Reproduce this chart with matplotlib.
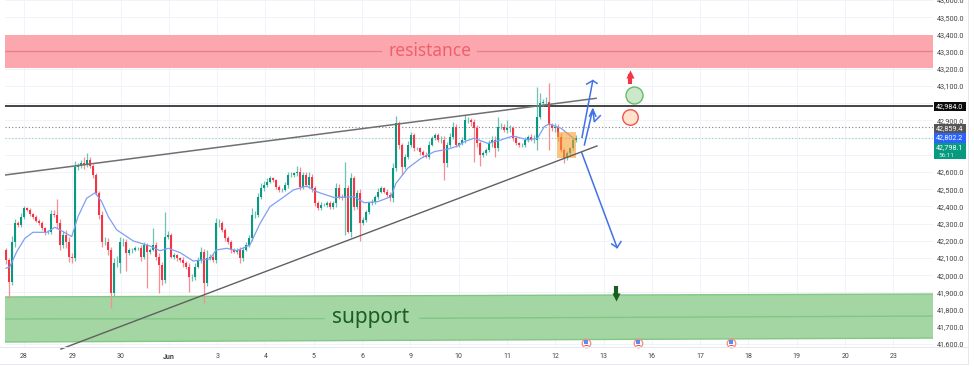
import numpy as np
import matplotlib
matplotlib.use("Agg")
import matplotlib.pyplot as plt
from matplotlib.patches import Rectangle, Polygon

W, H = 974, 366

# cierres, una vela por entrada
closes = [
    42089, 41963, 42196, 42302, 42293, 42341, 42390, 42380, 42357, 42337, 42318, 42302, 42273, 42254,
    42254, 42357, 42351, 42302, 42176, 42235, 42196, 42109, 42099, 42632, 42636, 42651, 42642, 42671,
    42636, 42583, 42477, 42351, 42196, 42196, 42147, 41895, 42070, 42070, 42196, 42196, 42128, 42147,
    42147, 42157, 42157, 42109, 42176, 42138, 42147, 42176, 42109, 42060, 41973, 42225, 42235, 42109,
    42118, 42099, 42089, 42070, 42050, 41992, 41992, 42050, 42089, 42138, 41954, 42099, 42109, 42089,
    42302, 42302, 42264, 42215, 42196, 42147, 42138, 42147, 42099, 42147, 42176, 42215, 42351, 42351,
    42457, 42506, 42525, 42545, 42564, 42554, 42516, 42496, 42496, 42525, 42583, 42583, 42593, 42603,
    42516, 42583, 42525, 42574, 42506, 42419, 42390,
    42409, 42409, 42419, 42399, 42419, 42506, 42457, 42448, 42506, 42254, 42564, 42399, 42477, 42302,
    42322, 42370, 42419, 42428, 42457, 42487, 42506, 42487, 42467, 42448, 42622, 42884, 42758, 42632,
    42690, 42758, 42816, 42738, 42738, 42719, 42700, 42690, 42758, 42797, 42816, 42787, 42787, 42651,
    42758, 42806, 42864, 42758, 42767, 42787, 42903, 42903, 42893, 42855, 42767, 42700, 42709, 42729,
    42767, 42787, 42738, 42864, 42864, 42845, 42855, 42855, 42797, 42767, 42758, 42758, 42787, 42806,
    42787, 42787, 42923, 43000, 43010, 43010, 42874, 42855, 42864, 42806, 42729, 42680, 42709, 42738,
    42787, 42798,
]
wick_up = [
    30, 10, 30, 25, 15, 20, 15, 8, 10, 8, 12, 10, 15, 10,
    8, 25, 20, 15, 25, 20, 30, 25, 20, 30, 15, 20, 25, 20,
    15, 10, 12, 15, 20, 25, 20, 15, 30, 40, 25, 20, 15, 12,
    10, 15, 8, 20, 15, 12, 10, 25, 15, 20, 15, 30, 20, 12,
    10, 8, 10, 15, 12, 20, 15, 20, 15, 25, 15, 20, 12, 15,
    30, 25, 15, 10, 12, 8, 10, 12, 15, 20, 15, 20, 40, 25,
    20, 30, 25, 20, 15, 10, 8, 10, 12, 15, 20, 15, 10, 30,
    25, 20, 15, 25, 15, 12, 10, 15, 12, 15, 10, 15, 20, 25,
    15, 30, 20, 25, 15, 20, 25, 15, 10, 8, 15, 12, 20, 15,
    10, 15, 20, 30, 25, 15, 12, 15, 20, 15, 10, 8, 10, 8,
    15, 20, 15, 10, 12, 20, 25, 15, 20, 30, 15, 10, 15, 30,
    15, 10, 15, 20, 12, 15, 10, 20, 25, 20, 15, 20, 15, 12,
    20, 15, 10, 8, 12, 15, 12, 15, 30, 25, 20, 15, 25, 20,
    10, 25, 15, 20, 10, 15, 8, 10, 15,
]
wick_down = [
    25, 15, 20, 30, 15, 10, 12, 8, 10, 12, 8, 10, 12, 20,
    15, 15, 10, 25, 30, 15, 40, 30, 25, 15, 20, 15, 25, 10,
    15, 20, 12, 25, 30, 20, 30, 25, 15, 20, 15, 25, 30, 10,
    15, 8, 12, 25, 12, 10, 15, 8, 20, 25, 30, 20, 15, 10,
    12, 15, 10, 20, 15, 30, 25, 20, 10, 15, 20, 15, 12, 10,
    15, 20, 10, 15, 12, 15, 10, 12, 25, 15, 8, 12, 15, 20,
    15, 12, 15, 10, 8, 12, 15, 10, 12, 8, 15, 12, 10, 15,
    20, 15, 12, 15, 20, 15, 10, 12, 8, 10, 15, 12, 20, 15,
    12, 25, 15, 30, 20, 15, 30, 20, 15, 12, 10, 15, 12, 8,
    10, 12, 15, 20, 15, 25, 30, 15, 12, 10, 15, 12, 20, 15,
    10, 15, 8, 10, 12, 15, 25, 20, 15, 12, 10, 15, 12, 15,
    20, 25, 30, 20, 15, 12, 10, 15, 20, 25, 15, 12, 10, 15,
    20, 15, 12, 10, 15, 12, 10, 8, 15, 10, 12, 15, 20, 25,
    15, 20, 25, 15, 12, 10, 15, 12, 10,
]
# mechas largas: vela -> precio
high_spikes = {0: 42157, 17: 42442, 26: 42690, 27: 42713, 49: 42273, 53: 42370, 67: 42147,
               110: 42535, 113: 42661, 115: 42593, 130: 42926, 135: 42835, 154: 42919,
               164: 42923, 167: 42903, 177: 43093, 178: 43058, 181: 43116, 183: 42884}
low_spikes = {1: 41870, 35: 41808, 38: 42012, 40: 42027, 47: 41928, 51: 41895, 61: 41905, 66: 41837,
              113: 42235, 114: 42244, 118: 42202, 119: 42293, 132: 42583, 146: 42554, 156: 42661,
              158: 42636, 163: 42690, 177: 42729, 181: 42729, 186: 42655}

# media movil (vela, precio)
ma_bars = [0, 1.3, 3.6, 6.3, 9, 13.6, 16.3, 19, 21.9, 24, 26.9, 29.7, 31.9, 34.1, 36.9, 42.4, 48,
           51.3, 54.1, 58, 62.4, 68, 70, 73.6, 77, 81.3, 84.7, 88, 92, 95.8, 100.2, 103.6, 105,
           109.4, 116, 119.4, 123.9, 128.3, 130, 133.9, 138.3, 142.8, 147.2, 150.6, 152.8, 156,
           160.6, 165, 169, 173.9, 177.2, 179.4, 181, 185, 189.4]
ma_price = [42041, 42050, 42138, 42215, 42250, 42250, 42279, 42254, 42225, 42341, 42448, 42480,
            42428, 42341, 42264, 42200, 42170, 42143, 42157, 42132, 42083, 42095, 42147, 42157,
            42143, 42176, 42302, 42399, 42448, 42496, 42519, 42486, 42477, 42452, 42457, 42422,
            42428, 42457, 42535, 42622, 42680, 42719, 42733, 42752, 42777, 42797, 42767, 42787,
            42810, 42787, 42797, 42864, 42880, 42855, 42793]

day_labels = ["28", "29", "30", "Jun", "3", "4", "5", "6", "9", "10", "11", "12", "13",
              "16", "17", "18", "19", "20", "23"]
price_ticks = list(range(41600, 43700, 100))
# tapadas por las etiquetas de precio
hidden_ticks = [42700, 42800, 43000]

res_top, res_mid, res_bottom = 43400, 43305, 43205
sup_top = [41874, 41891]
sup_mid = [41746, 41763]
sup_bottom = [41612, 41635]

UP = "#089981"
DOWN = "#f23645"
BLUE_DRAW = "#3f72e6"

plt.rcParams['font.family'] = ['Roboto', 'DejaVu Sans']

fig = plt.figure(figsize=(W / 100, H / 100), dpi=100)
ax = fig.add_axes([5 / W, 1 - 347 / H, 928 / W, 347 / H])
x_left, x_right = -0.33, 309
ax.set_xlim(x_left, x_right)
ax.set_ylim(41583, 43600.6)

# grid
day_pos = 6 + 16.1 * np.arange(len(day_labels))
ax.set_xticks(day_pos)
ax.set_xticklabels(day_labels, fontsize=5, color="#444444")
ax.get_xticklabels()[3].set_fontweight("bold")
ax.set_yticks(price_ticks)
ax.set_yticklabels(["" if p in hidden_ticks else "{:,.1f}".format(p) for p in price_ticks],
                   fontsize=5.2, color="#444444")
ax.yaxis.tick_right()
ax.tick_params(length=0)
ax.tick_params(axis="y", pad=3)
ax.tick_params(axis="x", pad=4)
ax.grid(color="#f0f3fa", lw=0.7)
ax.set_axisbelow(True)
for name, sp in ax.spines.items():
    sp.set_visible(False)

# bandas
ax.axhspan(res_bottom, res_top, color="#fca7ae", lw=0, zorder=1)
ax.plot([x_left, 125], [res_mid, res_mid], color="#ee7f88", lw=1, zorder=1.5)
ax.plot([157, x_right], [res_mid, res_mid], color="#ee7f88", lw=1, zorder=1.5)
ax.text(141.5, res_mid, "resistance", color="#f0606c", fontsize=12.5, ha="center", va="center",
        family="Noto Sans", fontweight="medium", zorder=2)

ends = [x_left, x_right]
ax.add_patch(Polygon([(ends[0], sup_top[0]), (ends[1], sup_top[1]), (ends[1], sup_bottom[1]),
                      (ends[0], sup_bottom[0])], closed=True, fc="#a3d6a3", ec="none", zorder=1))
for vals in (sup_top, sup_bottom):
    ax.plot(ends, vals, color="#82c785", lw=1, zorder=1.5)
ax.plot([x_left, 106], [sup_mid[0], sup_mid[0] + 2], color="#82c785", lw=1, zorder=1.5)
ax.plot([138, x_right], [sup_mid[0] + 4, sup_mid[1]], color="#82c785", lw=1, zorder=1.5)
ax.text(121.5, 41752, "support", color="#1b5e20", fontsize=15, ha="center", va="center",
        family="Noto Sans", fontweight="semibold", zorder=2)

# lineas de precio
ax.axhline(42984, color="#444444", lw=1.4, zorder=2)
ax.axhline(42859.4, color="#808080", lw=0.8, ls=(0, (1, 2)), zorder=2)
ax.axhline(42798.1, color="#8fd0c4", lw=0.8, ls=(0, (1, 2)), zorder=2)

# velas
closes = np.array(closes, dtype=float)
opens = np.r_[closes[0] + 60, closes[:-1]]
bars = np.arange(len(closes))
highs = np.maximum(opens, closes) + np.array(wick_up)
lows = np.minimum(opens, closes) - np.array(wick_down)
for i, p in high_spikes.items():
    highs[i] = p
for i, p in low_spikes.items():
    lows[i] = p
colors = [UP if c >= o else DOWN for o, c in zip(opens, closes)]
wick_colors = ["#6cc4b3" if c >= o else "#f98d96" for o, c in zip(opens, closes)]
ax.vlines(bars, lows, highs, colors=wick_colors, lw=0.9, zorder=3)
ax.bar(bars, np.abs(closes - opens), bottom=np.minimum(opens, closes), width=0.75, color=colors,
       lw=0, zorder=3.2)
ax.plot(ma_bars, ma_price, color="#7f9ff5", lw=0.9, zorder=3.5)

# cuna
ax.plot([-0.33, 196.7], [42583, 43029], color="#707070", lw=1.1, zorder=4)
ax.plot([18.3, 197], [41571, 42752], color="#606060", lw=1.0, zorder=4, clip_on=False)

# zona naranja
ax.add_patch(Rectangle((183.7, 42684), 6.3, 147, fc="#f7a030", alpha=0.6, lw=0, zorder=3.8))

# flechas a mano
ax.plot([192, 195.6], [42802, 43132], color=BLUE_DRAW, lw=1.1, zorder=5)
ax.plot([193.6, 195.6, 197], [43112, 43132, 43116], color=BLUE_DRAW, lw=1.1, zorder=5)
ax.plot([192.8, 195.6, 196.1, 198.1], [42758, 42965, 42893, 42928], color=BLUE_DRAW, lw=1.1, zorder=5)
ax.plot([194.5, 195.6, 196.6], [42925, 42965, 42925], color=BLUE_DRAW, lw=1.1, zorder=5)
ax.plot([191.9, 203.7], [42713, 42161], color=BLUE_DRAW, lw=1.1, zorder=5)
ax.plot([201.9, 203.7, 205], [42182, 42161, 42196], color=BLUE_DRAW, lw=1.1, zorder=5)

# circulos y marcadores
ax.scatter([209.3], [43050], s=150, fc="#cbe8cb", ec="#66bb6a", lw=1, zorder=5)
ax.scatter([207.9], [42920], s=125, fc="#ffe3cc", ec="#ef5350", lw=1, zorder=5)
ax.scatter([208], [43170], s=34, marker="^", color="#f23645", lw=0, zorder=5)
ax.vlines([208], [43115], [43170], colors="#f23645", lw=3, zorder=5)
ax.scatter([203.2], [41872], s=34, marker="v", color="#1b5e20", lw=0, zorder=5)
ax.vlines([203.2], [41872], [41935], colors="#1b5e20", lw=3, zorder=5)

# banderas de eventos
event_bars = [193.3, 210.7, 241.7]
event_prices = [41607, 41607, 41607]
ax.scatter(event_bars, event_prices, s=38, fc="#ffffff", ec="#f28b82", lw=0.9, zorder=6, clip_on=False)
ax.scatter(event_bars, [p + 6 for p in event_prices], s=12, marker="s", color="#5b8def", lw=0, zorder=6.1,
           clip_on=False)
ax.scatter(event_bars, [p - 10 for p in event_prices], s=7, marker="_", color="#ef5350", lw=0.8, zorder=6.1,
           clip_on=False)


def tag(top, bottom, color, label, sub=None):
    # etiqueta de precio en el eje derecho, en pixeles de la figura
    x0, x1 = 934, 966
    fig.add_artist(Rectangle((x0 / W, 1 - bottom / H), (x1 - x0) / W, (bottom - top) / H,
                             transform=fig.transFigure, fc=color, ec="none", zorder=5))
    y = top + 4.7
    fig.text(950 / W, 1 - y / H, label, color="white", fontsize=5.2, ha="center", va="center", zorder=6)
    if sub:
        fig.text(938 / W, 1 - (y + 7.5) / H, sub, color="#d5f0ea", fontsize=4.6, ha="left", va="center", zorder=6)


tag(102, 111, "#0c0c0c", "42,984.0")
tag(124, 133, "#555555", "42,859.4")
tag(133, 143, "#2962ff", "42,802.2")
tag(143, 159, "#089981", "42,798.1", "56:11")

# bordes
for x0, y0, x1, y1 in [(968, 0, 968, 364), (0, 347, 968, 347), (0, 364, 968, 364)]:
    fig.add_artist(plt.Line2D([x0 / W, x1 / W], [1 - y0 / H, 1 - y1 / H], color="#e6e8ee", lw=0.7,
                              transform=fig.transFigure, zorder=1))

fig.savefig("out.png", dpi=100)
